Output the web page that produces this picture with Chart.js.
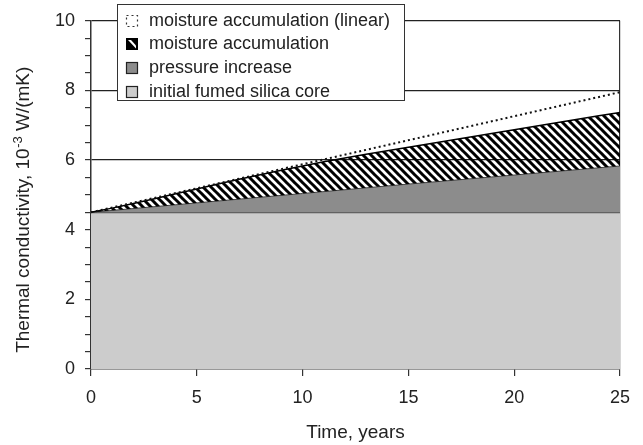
<!DOCTYPE html>
<html>
<head>
<meta charset="utf-8">
<script src="https://cdn.jsdelivr.net/npm/chart.js@4/dist/chart.umd.min.js"></script>
<style>
  html, body { margin: 0; padding: 0; background: #fff; }
  #wrap { width: 643px; height: 445px; position: relative; }
</style>
</head>
<body>
<div id="wrap"><canvas id="c" width="643" height="445"></canvas></div>
<script>
// ---- data ----
const coreYears = [0, 25];
const coreValues = [4.5, 4.5];

const pressureYears = [0, 5, 10, 15, 20, 25];
const pressureValues = [4.5, 4.77, 5.04, 5.31, 5.57, 5.83];

const moistureYears = [0, 1, 2, 3, 4, 5, 6, 7, 8, 9, 10, 11, 12, 13, 14, 15, 16, 17, 18, 19, 20, 21, 22, 23, 24, 25];
const moistureValues = [4.5, 4.62, 4.75, 4.89, 5.03, 5.17, 5.31, 5.45, 5.58, 5.71, 5.83, 5.95, 6.06, 6.17, 6.27, 6.37, 6.47, 6.57, 6.67, 6.77, 6.87, 6.97, 7.07, 7.17, 7.27, 7.37];

const linearYears = [0, 25];
const linearValues = [4.5, 7.95];

const seriesNames = [
  'moisture accumulation (linear)',
  'moisture accumulation',
  'pressure increase',
  'initial fumed silica core'
];
const xTickValues = [0, 5, 10, 15, 20, 25];
const yLabelValues = [0, 2, 4, 6, 8, 10];
const yGridValues = [6, 8, 10];

const xTitle = 'Time, years';
const yTitleParts = ['Thermal conductivity, 10', '-3', ' W/(mK)'];

function pts(xs, ys) { return xs.map((x, i) => ({ x: x, y: ys[i] })); }

// hatch pattern
function makeHatch() {
  const s = 8;
  const t = document.createElement('canvas');
  t.width = s; t.height = s;
  const g = t.getContext('2d');
  g.strokeStyle = '#000';
  g.lineWidth = 3;
  g.beginPath();
  for (const k of [-s, 0, s]) {
    g.moveTo(k - 1, -1);
    g.lineTo(k + s + 1, s + 1);
  }
  g.stroke();
  return g.createPattern(t, 'repeat');
}
const hatch = makeHatch();

const FONT = "'Liberation Sans', Arial, sans-serif";
const TXT = '#222';

const yTitlePlugin = {
  id: 'yTitle',
  afterDraw(chart) {
    const ctx = chart.ctx;
    ctx.save();
    ctx.translate(24, 210);
    ctx.rotate(-Math.PI / 2);
    ctx.fillStyle = TXT;
    ctx.textBaseline = 'middle';
    ctx.textAlign = 'left';
    const big = '19px ' + FONT, small = '13px ' + FONT;
    ctx.font = big;
    const w0 = ctx.measureText(yTitleParts[0]).width;
    const w2 = ctx.measureText(yTitleParts[2]).width;
    ctx.font = small;
    const w1 = ctx.measureText(yTitleParts[1]).width;
    let x = -(w0 + w1 + w2) / 2;
    ctx.font = big;
    ctx.fillText(yTitleParts[0], x, 0);
    x += w0;
    ctx.font = small;
    ctx.fillText(yTitleParts[1], x + 0.5, -6);
    x += w1 + 0.5;
    ctx.font = big;
    ctx.fillText(yTitleParts[2], x, 0);
    ctx.restore();
  }
};

const legendPlugin = {
  id: 'boxLegend',
  afterDraw(chart) {
    const ctx = chart.ctx;
    ctx.save();
    const L = 117, T = 4, R = 404, B = 100;
    ctx.fillStyle = '#fff';
    ctx.fillRect(L, T, R - L, B - T);
    ctx.strokeStyle = '#333';
    ctx.lineWidth = 1;
    ctx.strokeRect(L + 0.5, T + 0.5, R - L, B - T);
    const rows = [20, 43.5, 67.5, 91];
    ctx.font = '18px ' + FONT;
    ctx.textBaseline = 'middle';
    ctx.fillStyle = TXT;
    const mx = 126, ms = 11;
    rows.forEach((y, i) => {
      const my = Math.round(y - ms / 2) + 0.5;
      if (i === 0) {
        ctx.setLineDash([2, 3]);
        ctx.strokeStyle = '#333';
        ctx.lineWidth = 1.2;
        ctx.strokeRect(mx + 0.5, my, ms, ms);
        ctx.setLineDash([]);
      } else if (i === 1) {
        ctx.fillStyle = '#000';
        ctx.fillRect(mx, my - 0.5, ms + 1, ms + 1);
        ctx.fillStyle = '#fff';
        ctx.beginPath();
        ctx.moveTo(mx + 2, my + 1.5);
        ctx.lineTo(mx + 5, my + 1.5);
        ctx.lineTo(mx + ms - 1, my + ms - 4);
        ctx.lineTo(mx + ms - 1, my + ms - 1);
        ctx.closePath();
        ctx.fill();
      } else {
        ctx.fillStyle = i === 2 ? '#8c8c8c' : '#cccccc';
        ctx.fillRect(mx + 0.5, my, ms, ms);
        ctx.strokeStyle = '#222';
        ctx.lineWidth = 1.2;
        ctx.strokeRect(mx + 0.5, my, ms, ms);
      }
      ctx.fillStyle = TXT;
      ctx.fillText(seriesNames[i], 149, y + 1);
    });
    ctx.restore();
  }
};

new Chart(document.getElementById('c'), {
  type: 'line',
  data: {
    datasets: [
      {
        label: seriesNames[0],
        data: pts(linearYears, linearValues),
        borderColor: '#111',
        borderWidth: 2,
        borderDash: [2, 3],
        pointRadius: 0,
        fill: false,
        order: 0
      },
      {
        label: seriesNames[1],
        data: pts(moistureYears, moistureValues),
        borderColor: '#000',
        borderWidth: 1.5,
        backgroundColor: hatch,
        pointRadius: 0,
        fill: 2,
        order: 1
      },
      {
        label: seriesNames[2],
        data: pts(pressureYears, pressureValues),
        borderColor: '#444',
        borderWidth: 1,
        backgroundColor: '#8c8c8c',
        pointRadius: 0,
        fill: 3,
        order: 2
      },
      {
        label: seriesNames[3],
        data: pts(coreYears, coreValues),
        borderColor: '#555',
        borderWidth: 2,
        backgroundColor: '#cccccc',
        pointRadius: 0,
        fill: 'origin',
        order: 3
      }
    ]
  },
  options: {
    responsive: false,
    animation: false,
    events: [],
    layout: { padding: { top: 20, right: 23, left: 0, bottom: 0 } },
    plugins: { legend: { display: false }, tooltip: { enabled: false } },
    scales: {
      x: {
        type: 'linear',
        min: 0, max: 25,
        afterBuildTicks(scale) { scale.ticks = xTickValues.map(v => ({ value: v })); },
        afterFit(scale) { scale.height = 76; },
        ticks: { color: TXT, font: { family: FONT, size: 18 }, padding: 11, autoSkip: false, maxRotation: 0 },
        grid: {
          color: c => (c.tick && c.tick.value === 25 ? '#333' : 'rgba(0,0,0,0)'),
          tickColor: '#333',
          tickLength: 7,
          lineWidth: 1.2,
          drawOnChartArea: true
        },
        border: { display: true, color: '#333', width: 1.5 },
        title: { display: true, text: xTitle, color: TXT, font: { family: FONT, size: 19 }, padding: { top: 0, bottom: 1 } }
      },
      y: {
        min: 0, max: 10,
        ticks: {
          stepSize: 0.5,
          autoSkip: false,
          color: TXT,
          font: { family: FONT, size: 18 },
          padding: 10,
          callback: v => (yLabelValues.includes(v) ? String(v) : '')
        },
        afterFit(scale) { scale.width = 91; },
        grid: {
          color: c => (c.tick && yGridValues.includes(c.tick.value) ? '#222' : 'rgba(0,0,0,0)'),
          tickColor: '#333',
          tickLength: 6,
          lineWidth: 1.2
        },
        border: { display: true, color: '#333', width: 1.5 },
        title: { display: false }
      }
    }
  },
  plugins: [legendPlugin, yTitlePlugin]
});
</script>
</body>
</html>
